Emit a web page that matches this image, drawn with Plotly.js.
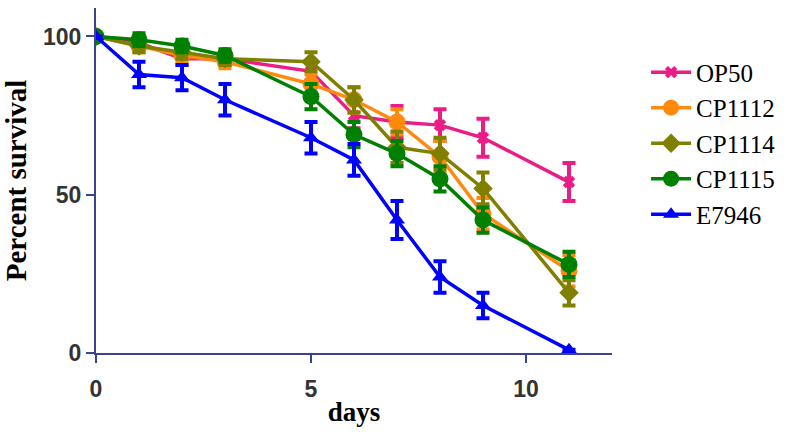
<!DOCTYPE html>
<html>
<head>
<meta charset="utf-8">
<script src="https://cdn.plot.ly/plotly-3.0.1.min.js"></script>
<style>html,body{margin:0;padding:0;background:#fff;}#chart{width:793px;height:438px;}</style>
</head>
<body>
<div id="chart"></div>
<script>
const days = [0, 1, 2, 3, 5, 6, 7, 8, 9, 11];
const seriesNames = ["OP50", "CP1112", "CP1114", "CP1115", "E7946"];
const op50 = [100, 98, 93, 93, 89, 75, 73, 72, 68, 54];
const op50Err = [0, 2, 2, 2, 3, 4, 5, 5, 6, 6];
const cp1112 = [100, 97, 94, 92, 85, 80, 73, 62, 44, 26];
const cp1112Err = [0, 2, 2, 2, 3, 4, 4, 5, 5, 5];
const cp1114 = [100, 97, 95, 93, 92, 80, 65, 63, 52, 19];
const cp1114Err = [0, 2, 2, 2, 3, 4, 5, 5, 5, 4];
const cp1115 = [100, 99, 97, 94, 81, 69, 63, 55, 42, 28];
const cp1115Err = [0, 2, 2, 2, 4, 4, 4, 4, 4, 4];
const e7946 = [100, 88, 87, 80, 68, 61, 42, 24, 15, 1];
const e7946Err = [0, 4, 4, 5, 5, 5, 6, 5, 4, 0];
const colors = ["#ec1c86", "#ff8a0e", "#808000", "#008000", "#0000ff"];
const symbols = ["x", "circle", "diamond", "circle", "triangle-up"];
const sizes = [11, 17, 15, 17, 14];

const values = [op50, cp1112, cp1114, cp1115, e7946];
const errs = [op50Err, cp1112Err, cp1114Err, cp1115Err, e7946Err];

const traces = seriesNames.map((n, i) => ({
  x: days, y: values[i], name: n, type: "scatter", mode: "lines+markers",
  legendgroup: n,
  line: {color: colors[i], width: 3.5},
  marker: {color: colors[i], symbol: symbols[i], size: sizes[i], line: {width: 0}},
  error_y: {type: "data", array: errs[i], visible: true, color: colors[i], thickness: 4, width: 6.5}
}));

const axisColor = "#3b4290";
const tickFont = {family: "Liberation Sans, Arial, sans-serif", size: 23, color: "#333", weight: "bold"};
const layout = {
  width: 793, height: 438,
  margin: {l: 96, r: 181, t: 8, b: 85},
  paper_bgcolor: "#fff", plot_bgcolor: "#fff",
  showlegend: true,
  legend: {x: 1.066, y: 0.88, xanchor: "left", yanchor: "top",
    font: {family: "Liberation Serif, Times New Roman, serif", size: 25, color: "#000"},
    tracegroupgap: 0, traceorder: "grouped", itemwidth: 40},
  xaxis: {range: [0, 12], tickvals: [0, 5, 10], ticktext: ["0", "5", "10"],
    showline: true, linecolor: axisColor, linewidth: 2, ticks: "outside", ticklen: 8, tickwidth: 2, tickcolor: axisColor,
    showgrid: false, zeroline: false, ticklabelstandoff: 6,
    tickfont: tickFont,
    title: {text: "<b>days</b>", font: {family: "Liberation Serif, Times New Roman, serif", size: 27, color: "#000"}, standoff: 2}},
  yaxis: {range: [0, 109], tickvals: [0, 50, 100], ticktext: ["0", "50", "100"],
    showline: true, linecolor: axisColor, linewidth: 2, ticks: "outside", ticklen: 8, tickwidth: 2, tickcolor: axisColor,
    showgrid: false, zeroline: false,
    tickfont: tickFont,
    title: {text: "<b>Percent survival</b>", font: {family: "Liberation Serif, Times New Roman, serif", size: 29, color: "#000"}, standoff: 8}}
};

Plotly.newPlot("chart", traces, layout, {displayModeBar: false, staticPlot: true});
</script>
</body>
</html>
